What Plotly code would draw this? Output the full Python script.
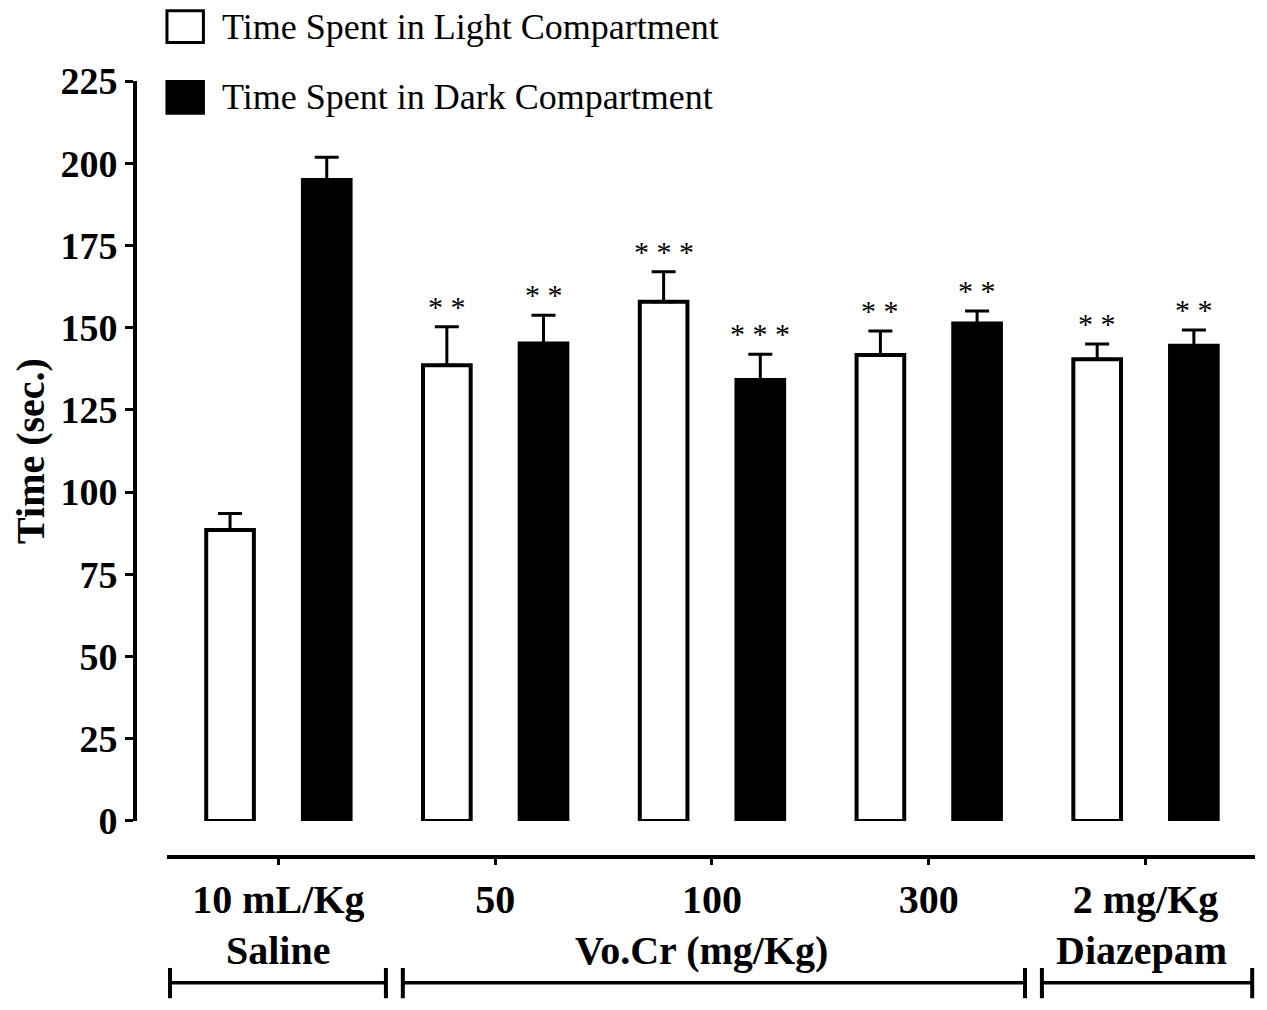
import plotly.graph_objects as go

# ---- data ----
groups = ["10 mL/Kg", "50", "100", "300", "2 mg/Kg"]
light_mean = [88.5, 138.6, 157.9, 141.7, 140.4]
light_upper = [93.5, 150.3, 167.0, 149.0, 145.0]
dark_mean = [194.9, 145.2, 134.1, 151.3, 144.5]
dark_upper = [201.8, 153.8, 141.9, 155.1, 149.3]
light_sig = ["", "* *", "* * *", "* *", "* *"]
dark_sig = ["", "* *", "* * *", "* *", "* *"]
series_names = ["Time Spent in Light Compartment", "Time Spent in Dark Compartment"]
y_ticks = [0, 25, 50, 75, 100, 125, 150, 175, 200, 225]
# second-row labels and brackets: (text, label position, bracket start, bracket end) in category units
treatments = [("Saline", 0.0, -0.50, 0.496),
              ("Vo.Cr (mg/Kg)", 1.954, 0.574, 3.444),
              ("Diazepam", 3.98, 3.522, 4.492)]

FONT = "Liberation Serif"
BARGAP = 0.108
BARGROUPGAP = 0.507

light_err = [u - m for u, m in zip(light_upper, light_mean)]
dark_err = [u - m for u, m in zip(dark_upper, dark_mean)]
xi = list(range(len(groups)))

fig = go.Figure()
fig.add_trace(go.Bar(
    x=xi, y=light_mean, name=series_names[0],
    marker=dict(color="white", line=dict(color="black", width=4)),
    error_y=dict(type="data", array=light_err, arrayminus=[0] * len(groups),
                 symmetric=False, color="black", thickness=3, width=12),
    showlegend=False))
fig.add_trace(go.Bar(
    x=xi, y=dark_mean, name=series_names[1],
    marker=dict(color="black", line=dict(color="black", width=4)),
    error_y=dict(type="data", array=dark_err, arrayminus=[0] * len(groups),
                 symmetric=False, color="black", thickness=3, width=12),
    showlegend=False))

off = (1 - BARGAP) / 4
annotations = []
for i in xi:
    for xo, txt, top in ((-off, light_sig[i], light_upper[i]), (off, dark_sig[i], dark_upper[i])):
        if txt:
            annotations.append(dict(x=i + xo, y=top, xref="x", yref="y", text=txt,
                                    showarrow=False, yanchor="bottom", yshift=2,
                                    font=dict(family=FONT, size=30, color="black")))

shapes = []
for txt, lx, x0, x1 in treatments:
    annotations.append(dict(x=lx, y=-0.12, xref="x", yref="paper", text=txt,
                            showarrow=False, yanchor="middle", xanchor="center",
                            font=dict(family=FONT, size=40, color="black", weight="bold")))
    shapes.append(dict(type="line", xref="x", yref="paper", x0=x0, x1=x1, y0=-0.162, y1=-0.162,
                       line=dict(color="black", width=3.5)))
    for xe in (x0, x1):
        shapes.append(dict(type="line", xref="x", yref="paper", x0=xe, x1=xe, y0=-0.143, y1=-0.182,
                           line=dict(color="black", width=4)))

# manual legend
leg_y = [1.070, 0.979]
for name, fill, ly in zip(series_names, ["white", "black"], leg_y):
    shapes.append(dict(type="rect", xref="paper", yref="paper", x0=0.1045, x1=0.1345,
                       y0=ly - 0.0205, y1=ly + 0.0205, fillcolor=fill,
                       line=dict(color="black", width=3)))
    annotations.append(dict(x=0.148, y=ly, xref="paper", yref="paper", text=name,
                            showarrow=False, xanchor="left", yanchor="middle",
                            font=dict(family=FONT, size=36, color="black")))

fig.update_layout(
    width=1259, height=1002,
    margin=dict(l=32, r=12, t=73, b=153, autoexpand=False),
    paper_bgcolor="white", plot_bgcolor="white",
    barmode="group", bargap=BARGAP, bargroupgap=BARGROUPGAP,
    annotations=annotations, shapes=shapes,
    xaxis=dict(domain=[0.1045, 1], anchor="free", position=0,
               range=[-0.514, 4.505], tickmode="array", tickvals=xi, ticktext=groups,
               showline=True, linecolor="black", linewidth=4,
               ticks="outside", ticklen=6, tickwidth=3, tickcolor="black",
               showgrid=False, zeroline=False, automargin=False,
               tickfont=dict(family=FONT, size=40, color="black", weight="bold")),
    yaxis=dict(domain=[0.0464, 1], anchor="free", position=0.0782,
               range=[0, 225], tickmode="array", tickvals=y_ticks,
               showline=True, linecolor="black", linewidth=4,
               ticks="outside", ticklen=8, tickwidth=3, tickcolor="black",
               showgrid=False, zeroline=False, automargin=False,
               tickfont=dict(family=FONT, size=38, color="black", weight="bold"),
               title=dict(text="Time (sec.)", standoff=18,
                          font=dict(family=FONT, size=40, color="black", weight="bold"))),
)

fig.write_html("out.html")
